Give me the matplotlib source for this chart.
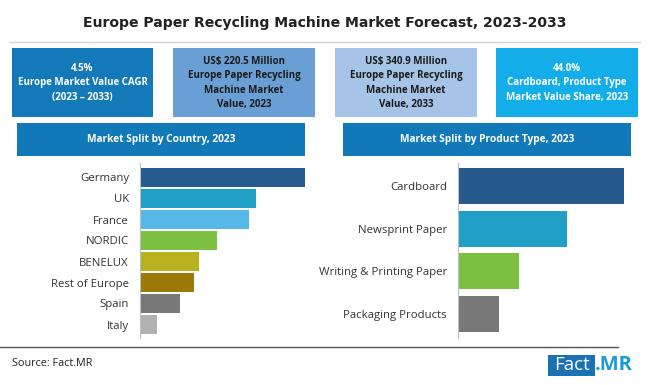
import matplotlib
matplotlib.use("Agg")
import matplotlib.pyplot as plt
from matplotlib.patches import Rectangle

# ---------------- data ----------------
title = "Europe Paper Recycling Machine Market Forecast, 2023-2033"
kpi_texts = [
    "4.5%\nEurope Market Value CAGR\n(2023 – 2033)",
    "US$ 220.5 Million\nEurope Paper Recycling\nMachine Market\nValue, 2023",
    "US$ 340.9 Million\nEurope Paper Recycling\nMachine Market\nValue, 2033",
    "44.0%\nCardboard, Product Type\nMarket Value Share, 2023",
]
kpi_colors = ["#1479b8", "#6a9fd6", "#a6c4e7", "#13aeea"]
kpi_text_colors = ["white", "#1a1a1a", "#1a1a1a", "white"]

country_title = "Market Split by Country, 2023"
countries = ["Germany", "UK", "France", "NORDIC", "BENELUX", "Rest of Europe", "Spain", "Italy"]
country_share = [25.9, 18.2, 17.1, 12.1, 9.3, 8.5, 6.3, 2.7]
country_colors = ["#255b8e", "#209fc7", "#55b8e6", "#7cc142", "#b7b21e", "#9c7a0a", "#787878", "#b0b0b0"]

product_title = "Market Split by Product Type, 2023"
products = ["Cardboard", "Newsprint Paper", "Writing & Printing Paper", "Packaging Products"]
product_share = [44.0, 28.9, 16.3, 10.8]
product_colors = ["#265a8c", "#209fc7", "#7cc142", "#787878"]

source = "Source: Fact.MR"

# ---------------- figure ----------------
W, H = 650, 385
fig = plt.figure(figsize=(W / 100, H / 100), dpi=100)
fig.patch.set_facecolor("white")

ov = fig.add_axes([0, 0, 1, 1])
ov.set_xlim(0, W)
ov.set_ylim(H, 0)
ov.axis("off")

FONT = "Open Sans"

ov.text(325, 23, title, ha="center", va="center", fontsize=10.1,
        fontweight="bold", color="#222222", family="DejaVu Sans")
ov.plot([10, 640], [42, 42], color="#d4d4d4", lw=1)

boxes_x = [(12, 153), (173, 315), (335, 477), (496, 638)]
for (x0, x1), txt, c, tc in zip(boxes_x, kpi_texts, kpi_colors, kpi_text_colors):
    ov.add_patch(Rectangle((x0, 48), x1 - x0, 69, facecolor=c, edgecolor="none"))
    ov.text((x0 + x1) / 2, 83, txt, ha="center", va="center", fontsize=7.0,
            fontweight="bold", color=tc, family=FONT, linespacing=1.4)

for x0, x1, txt in [(17, 305, country_title), (343, 631, product_title)]:
    ov.add_patch(Rectangle((x0, 123), x1 - x0, 33, facecolor="#1279b9", edgecolor="none"))
    ov.text((x0 + x1) / 2, 139.5, txt, ha="center", va="center", fontsize=7.3,
            fontweight="bold", color="white", family=FONT)

ov.plot([0, 618], [347, 347], color="#555555", lw=1)
ov.text(12, 364, source, ha="left", va="center", fontsize=7.8, color="#222222", family=FONT)
ov.add_patch(Rectangle((548, 355), 47, 21, facecolor="#1a72b5", edgecolor="none"))
ov.text(571.5, 365.5, "Fact", ha="center", va="center", fontsize=13.5, color="white", family=FONT)
ov.text(595, 365.5, ".MR", ha="left", va="center", fontsize=14.5, color="#1a9ad6",
        fontweight="bold", family=FONT)


def px_axes(x0, x1, y0, y1):
    return fig.add_axes([x0 / W, 1 - y1 / H, (x1 - x0) / W, (y1 - y0) / H])


def style(ax):
    ax.patch.set_alpha(0)
    for s in ["top", "right", "bottom"]:
        ax.spines[s].set_visible(False)
    ax.spines["left"].set_color("#c0c0c0")
    ax.spines["left"].set_linewidth(0.8)
    ax.set_xticks([])
    ax.tick_params(axis="y", length=0, pad=8, labelsize=8.2, labelcolor="#333333")
    for lab in ax.get_yticklabels():
        lab.set_family(FONT)


axc = px_axes(140, 305, 163, 338)
yc = list(range(len(countries)))
axc.barh(yc, country_share, height=0.86, color=country_colors)
axc.set_xlim(0, max(country_share))
axc.set_ylim((338 - 177.5) / 21, (163 - 177.5) / 21)
axc.set_yticks(yc)
axc.set_yticklabels(countries)
style(axc)

axp = px_axes(458, 624, 163, 338)
yp = list(range(len(products)))
axp.barh(yp, product_share, height=0.84, color=product_colors)
axp.set_xlim(0, max(product_share))
axp.set_ylim((338 - 186) / 42.7, (163 - 186) / 42.7)
axp.set_yticks(yp)
axp.set_yticklabels(products)
style(axp)

fig.savefig("out.png", dpi=100)
